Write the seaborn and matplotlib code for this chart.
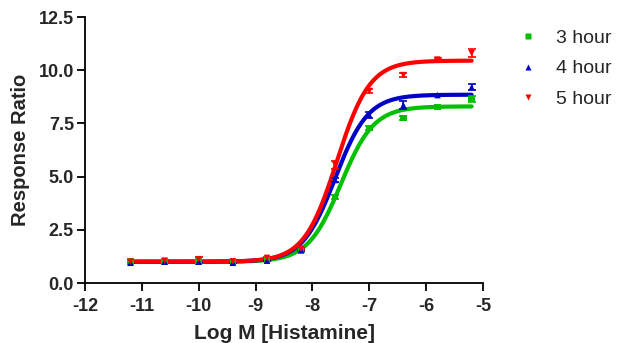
import numpy as np
import pandas as pd
import matplotlib
matplotlib.use("Agg")
import matplotlib.pyplot as plt
import seaborn as sns

# log molar histamine concentrations
log_conc = [-11.2, -10.6, -10.0, -9.4, -8.8, -8.2, -7.6, -7.0, -6.4, -5.8, -5.2]

resp_3h = [1.00, 1.00, 1.00, 1.00, 1.05, 1.50, 4.04, 7.28, 7.75, 8.27, 8.65]
resp_4h = [0.95, 1.00, 1.00, 0.95, 1.05, 1.55, 4.84, 7.90, 8.36, 8.83, 9.20]
resp_5h = [1.00, 1.05, 1.12, 1.02, 1.18, 1.60, 5.55, 9.02, 9.77, 10.50, 10.80]

err_3h = [0.03, 0.03, 0.03, 0.03, 0.03, 0.05, 0.08, 0.08, 0.08, 0.05, 0.15]
err_4h = [0.03, 0.03, 0.03, 0.03, 0.03, 0.05, 0.08, 0.15, 0.18, 0.05, 0.15]
err_5h = [0.03, 0.05, 0.10, 0.05, 0.05, 0.05, 0.20, 0.08, 0.08, 0.08, 0.18]

series = ["3 hour", "4 hour", "5 hour"]
colors = ["#00c000", "#0000c8", "#ff0000"]
markers = ["s", "^", "v"]

# 4PL fit parameters: bottom, top, logEC50, hill slope
fit_bottom = [1.0, 1.0, 1.0]
fit_top = [8.30, 8.85, 10.45]
fit_logec50 = [-7.50, -7.60, -7.57]
fit_hill = [1.5, 1.5, 1.5]

responses = [resp_3h, resp_4h, resp_5h]
errors = [err_3h, err_4h, err_5h]

sns.set_theme(style="ticks")
plt.rcParams["font.family"] = ["Liberation Sans", "DejaVu Sans"]

fig = plt.figure(figsize=(6.17, 3.43), dpi=100)
ax = fig.add_axes([0.1378, 0.1749, 0.645, 0.7755])

pts = pd.DataFrame({
    "x": log_conc * 3,
    "y": resp_3h + resp_4h + resp_5h,
    "series": np.repeat(series, len(log_conc)),
})

xs = np.linspace(min(log_conc), max(log_conc), 300)
curves = []
for i, s in enumerate(series):
    y = fit_bottom[i] + (fit_top[i] - fit_bottom[i]) / (1 + 10 ** ((fit_logec50[i] - xs) * fit_hill[i]))
    curves.append(pd.DataFrame({"x": xs, "y": y, "series": s}))
curves = pd.concat(curves)

palette = dict(zip(series, colors))
sns.lineplot(data=curves, x="x", y="y", hue="series", palette=palette,
             linewidth=3.0, legend=False, ax=ax)

for i, s in enumerate(series):
    ax.errorbar(log_conc, responses[i], yerr=errors[i], fmt="none",
                ecolor=colors[i], elinewidth=1.2, capsize=3, capthick=1.2, zorder=3)

sns.scatterplot(data=pts, x="x", y="y", hue="series", style="series",
                palette=palette, markers=dict(zip(series, markers)),
                s=22, edgecolor="none", ax=ax, zorder=4)

ax.set_xlim(-12, -5)
ax.set_ylim(0, 12.5)
ax.set_xticks(range(-12, -4))
ax.set_xticklabels([str(v) for v in range(-12, -4)])
ax.set_yticks([0, 2.5, 5, 7.5, 10, 12.5])
ax.set_yticklabels(["0.0", "2.5", "5.0", "7.5", "10.0", "12.5"])
for side in ["top", "right"]:
    ax.spines[side].set_visible(False)
for side in ["left", "bottom"]:
    ax.spines[side].set_linewidth(1.3)
    ax.spines[side].set_color("black")
ax.tick_params(direction="out", length=6, width=1.3, color="black",
               labelsize=13)
ax.tick_params(axis="x", pad=5)
ax.tick_params(axis="y", pad=2)
for lab in ax.get_xticklabels() + ax.get_yticklabels():
    lab.set_fontweight("bold")

ax.set_xlabel("Log M [Histamine]", fontsize=15, fontweight="bold", labelpad=6)
ax.set_ylabel("Response Ratio", fontsize=14.5, fontweight="bold", labelpad=6)

handles, labels = ax.get_legend_handles_labels()
leg = ax.legend(handles, labels, loc="upper left", bbox_to_anchor=(0.808, 0.965),
                bbox_transform=fig.transFigure, frameon=False, fontsize=14,
                handlelength=1.2, handletextpad=0.85, labelspacing=0.65)

fig.savefig("out.png", dpi=100)
